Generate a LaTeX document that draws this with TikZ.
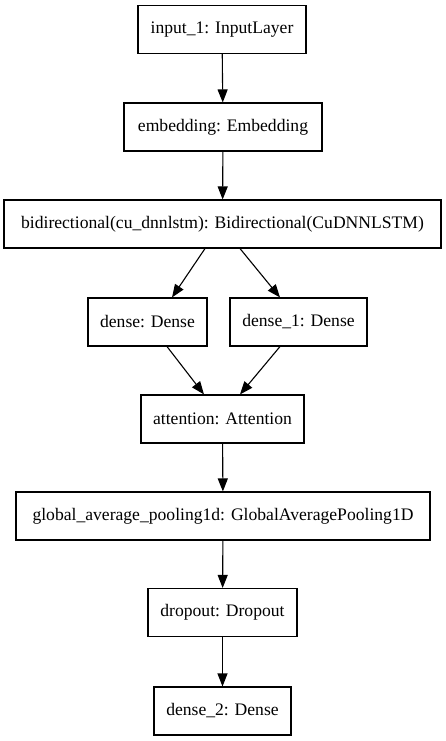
\documentclass[tikz,border=0pt]{standalone}
\usepackage{fontspec}
\setmainfont{Liberation Serif}
\usetikzlibrary{arrows.meta}

\begin{document}
\begin{tikzpicture}[x=1pt, y=-1pt, >={Triangle[length=13pt,width=10pt]},
	layer/.style={draw, line width=1.1pt, inner sep=0pt, minimum height=48pt, font=\fontsize{17.6}{20}\selectfont},
	edge/.style={->, line width=1.1pt}]
\useasboundingbox (0,0) rectangle (445,741);

\node[layer, minimum width=168pt] (input) at (222,29.5) {input\_1: InputLayer};
\node[layer, minimum width=198pt] (emb) at (223,127) {embedding: Embedding};
\node[layer, minimum width=437pt] (bilstm) at (222.5,224) {bidirectional(cu\_dnnlstm): Bidirectional(CuDNNLSTM)};
\node[layer, minimum width=119pt] (dense) at (147.5,322) {dense: Dense};
\node[layer, minimum width=137pt] (dense1) at (298.5,322) {dense\_1: Dense};
\node[layer, minimum width=163pt] (att) at (222.5,419) {attention: Attention};
\node[layer, minimum width=414pt] (gap) at (223,516) {global\_average\_pooling1d: GlobalAveragePooling1D};
\node[layer, minimum width=149pt] (drop) at (222.5,612.5) {dropout: Dropout};
\node[layer, minimum width=137pt] (dense2) at (222.5,711) {dense\_2: Dense};

\draw[edge] (input) -- (emb);
\draw[edge] (emb) -- (bilstm);
\draw[edge] ([xshift=-17.5pt]bilstm.south) -- ([xshift=24.5pt]dense.north);
\draw[edge] ([xshift=17.5pt]bilstm.south) -- ([xshift=-18.5pt]dense1.north);
\draw[edge] ([xshift=19.5pt]dense.south) -- ([xshift=-18.5pt]att.north);
\draw[edge] ([xshift=-18.5pt]dense1.south) -- ([xshift=17.5pt]att.north);
\draw[edge] (att) -- (gap);
\draw[edge] (gap) -- (drop);
\draw[edge] (drop) -- (dense2);
\end{tikzpicture}
\end{document}
